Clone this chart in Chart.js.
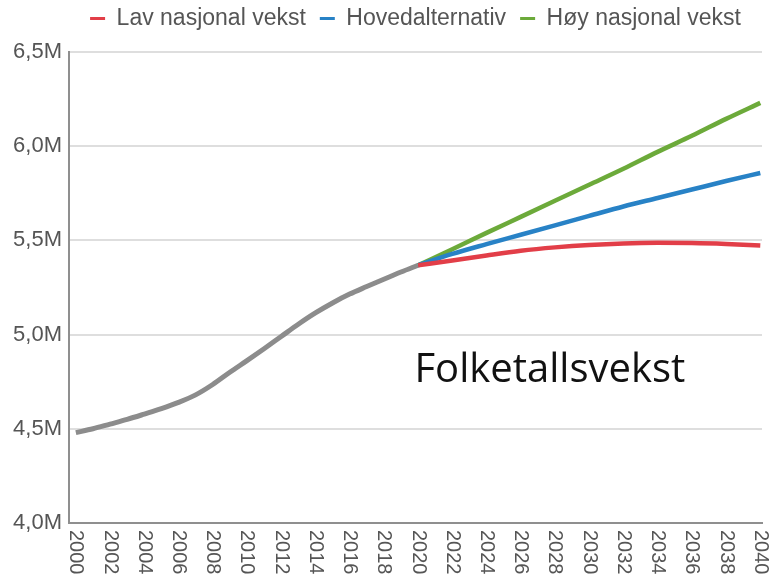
<!DOCTYPE html>
<html>
<head>
<meta charset="utf-8">
<script src="https://cdn.jsdelivr.net/npm/chart.js@4"></script>
<style>
  body { margin: 0; background: #fff; }
  canvas { display: block; }
</style>
</head>
<body>
<canvas id="folketall" width="773" height="578"></canvas>
<script>
// historiske tall (millioner), 2000-2020
const histYears = [2000, 2001, 2002, 2003, 2004, 2005, 2006, 2007, 2008, 2009, 2010,
    2011, 2012, 2013, 2014, 2015, 2016, 2017, 2018, 2019, 2020];
const histValues = [4.48, 4.50, 4.525, 4.55, 4.578, 4.607, 4.64, 4.68, 4.735, 4.80, 4.862,
    4.925, 4.99, 5.055, 5.115, 5.168, 5.215, 5.255, 5.294, 5.332, 5.368];

// framskrivinger 2020-2040
const projYears = [2020, 2022, 2024, 2026, 2028, 2030, 2032, 2034, 2036, 2038, 2040];
const lavValues = [5.368, 5.393, 5.42, 5.445, 5.463, 5.476, 5.484, 5.487, 5.486, 5.481, 5.473];
const hovedValues = [5.368, 5.428, 5.48, 5.53, 5.58, 5.63, 5.68, 5.725, 5.77, 5.815, 5.858];
const hoyValues = [5.368, 5.453, 5.54, 5.625, 5.71, 5.795, 5.88, 5.97, 6.055, 6.145, 6.23];

const seriesNames = ['Lav nasjonal vekst', 'Hovedalternativ', 'Høy nasjonal vekst'];
const tickYears = [2000, 2002, 2004, 2006, 2008, 2010, 2012, 2014, 2016, 2018, 2020,
    2022, 2024, 2026, 2028, 2030, 2032, 2034, 2036, 2038, 2040];
const yTicks = [4.0, 4.5, 5.0, 5.5, 6.0, 6.5];

const COLORS = {
    red: 'rgb(226, 62, 72)',
    blue: 'rgb(40, 130, 198)',
    green: 'rgb(108, 170, 58)',
    grey: 'rgb(140, 140, 140)'
};

const toPoints = (xs, ys) => xs.map((x, i) => ({ x: x, y: ys[i] }));

function lineSet(label, color, xs, ys, width) {
    return {
        label: label,
        data: toPoints(xs, ys),
        borderColor: color,
        backgroundColor: color,
        borderWidth: width,
        pointRadius: 0,
        cubicInterpolationMode: 'monotone',
        fill: false
    };
}

// x-etiketter rotert med klokka
const xLabels = {
    id: 'xLabels',
    afterDraw(chart) {
        const scale = chart.scales.x;
        const ctx = chart.ctx;
        ctx.save();
        ctx.font = '20px "Liberation Sans", Arial, sans-serif';
        ctx.fillStyle = '#555';
        ctx.textAlign = 'left';
        ctx.textBaseline = 'middle';
        scale.ticks.forEach(t => {
            ctx.save();
            ctx.translate(scale.getPixelForValue(t.value), scale.top + 7);
            ctx.rotate(Math.PI / 2);
            ctx.fillText(String(t.value), 0, 0);
            ctx.restore();
        });
        ctx.restore();
    }
};

// tittel inne i plottet
const innerTitle = {
    id: 'innerTitle',
    afterDatasetsDraw(chart) {
        const ctx = chart.ctx;
        ctx.save();
        ctx.font = '40px "Open Sans", "Noto Sans", sans-serif';
        ctx.fillStyle = '#111';
        ctx.textAlign = 'center';
        ctx.textBaseline = 'middle';
        ctx.fillText('Folketallsvekst',
            chart.scales.x.getPixelForValue(2027.7),
            chart.scales.y.getPixelForValue(4.81));
        ctx.restore();
    }
};

const config = {
    type: 'line',
    data: {
        datasets: [
            lineSet(seriesNames[0], COLORS.red, projYears, lavValues, 4.5),
            lineSet(seriesNames[1], COLORS.blue, projYears, hovedValues, 4.5),
            lineSet(seriesNames[2], COLORS.green, projYears, hoyValues, 4.5),
            lineSet('Historisk', COLORS.grey, histYears, histValues, 5)
        ]
    },
    options: {
        responsive: false,
        devicePixelRatio: 1,
        animation: false,
        layout: { padding: { top: -7, right: 11, left: 0, bottom: 0 } },
        plugins: {
            tooltip: { enabled: false },
            // tom tittel brukes som luft mellom forklaring og plott
            title: {
                display: true,
                text: '',
                weight: 500,
                padding: 0,
                font: { size: 10, lineHeight: 1.2 }
            },
            legend: {
                fullSize: false,
                labels: {
                    boxWidth: 15,
                    boxHeight: 3,
                    padding: 14,
                    color: '#555',
                    font: { size: 23, family: '"Liberation Sans", Arial, sans-serif' },
                    filter: item => item.datasetIndex < 3,
                    generateLabels: chart => Chart.defaults.plugins.legend.labels.generateLabels(chart)
                        .map(l => ({ ...l, lineWidth: 0 }))
                }
            }
        },
        scales: {
            x: {
                type: 'linear',
                min: 1999.6,
                max: 2040.1,
                afterBuildTicks: scale => { scale.ticks = tickYears.map(v => ({ value: v })); },
                afterFit: scale => { scale.height = 55; },
                ticks: { display: false },
                grid: { display: false },
                border: { display: true, color: '#8f8f8f', width: 2 }
            },
            y: {
                min: 4.0,
                max: 6.5,
                afterBuildTicks: scale => { scale.ticks = yTicks.map(v => ({ value: v })); },
                afterFit: scale => { scale.width = 69; },
                ticks: {
                    padding: 7,
                    color: '#555',
                    font: { size: 22, family: '"Liberation Sans", Arial, sans-serif' },
                    callback: v => v.toFixed(1).replace('.', ',') + 'M'
                },
                grid: { color: '#dedede', lineWidth: 2, drawTicks: false },
                border: { display: true, color: '#8f8f8f', width: 2 }
            }
        }
    },
    plugins: [xLabels, innerTitle]
};

const chart = new Chart(document.getElementById('folketall'), config);
</script>
</body>
</html>
